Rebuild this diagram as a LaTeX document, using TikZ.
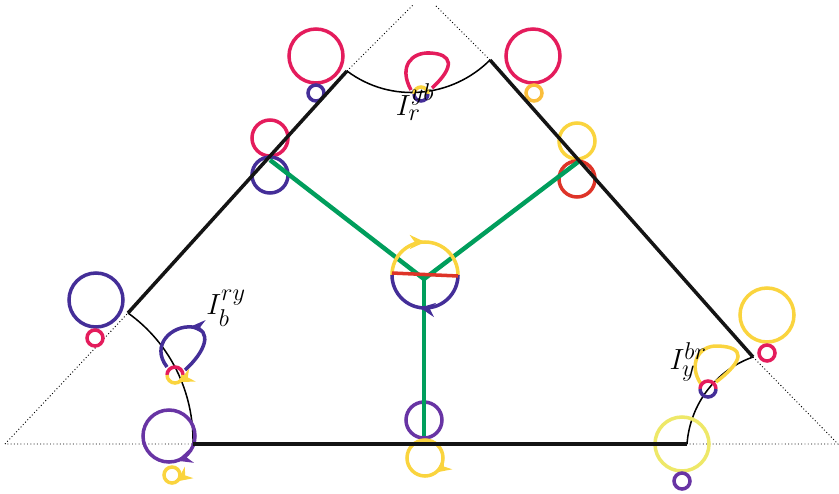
\documentclass[tikz,border=0pt]{standalone}
\usepackage{amsmath,amssymb}
\usepackage{xcolor}
\usepackage{tikz}
\usetikzlibrary{arrows.meta,decorations.markings,calc}

\definecolor{crimsonR}{RGB}{228,28,92}
\definecolor{indigoB}{RGB}{68,46,152}
\definecolor{violetB}{RGB}{104,52,164}
\definecolor{sunY}{RGB}{250,212,62}
\definecolor{amberY}{RGB}{250,190,60}
\definecolor{vermR}{RGB}{222,52,40}
\definecolor{paleY}{RGB}{238,232,104}
\definecolor{leafG}{RGB}{0,158,92}

\begin{document}
\begin{tikzpicture}[
  x=0.03cm, y=-0.03cm,
  guide/.style={dotted, line width=0.8pt},
  side/.style={line width=3pt, black!92},
  cut/.style={line width=1.3pt},
  leg/.style={line width=3.8pt, color=leafG},
  ring/.style={line width=3pt},
  spin/.style={line width=3pt, postaction={decorate},
    decoration={markings, mark=at position #1 with {\arrow{Stealth[length=13pt,width=12pt]}}}},
  tag/.style={font=\Huge, inner sep=0pt},
]
\useasboundingbox (0,0) rectangle (839,493);
\clip (0,0) rectangle (839,493);

% corners of the dotted triangle and of the cut piece
\coordinate (topL) at (413,5);
\coordinate (topR) at (435,5);
\coordinate (cornL) at (5,444);
\coordinate (cornR) at (838,444);
\coordinate (vTL) at (347,71);
\coordinate (vTR) at (490,60);
\coordinate (vL) at (128,313);
\coordinate (vR) at (753,357);
\coordinate (vBL) at (193,444);
\coordinate (vBR) at (687,444);

\draw[guide] (cornL) -- (vL);
\draw[guide] (vTL) -- (topL);
\draw[guide] (vTR) -- (topR);
\draw[guide] (vR) -- (cornR) -- (cornL);

% cuts round the three corners
\draw[cut] (vTL) .. controls (391,104) and (452,98) .. (vTR);
\draw[cut] (vL) .. controls (170,343) and (194,392) .. (vBL);
\draw[cut] (vR) .. controls (716,370) and (690,404) .. (vBR);

% rings on the edges
\draw[ring, crimsonR] (316,56) circle (27);
\draw[ring, indigoB] (316,93) circle (8);
\draw[ring, crimsonR] (533,56) circle (27);
\draw[ring, amberY] (534,93) circle (8);
\draw[ring, crimsonR] (270,138) circle (18);
\draw[ring, indigoB] (270,175) circle (18);
\draw[ring, sunY] (577,141) circle (18);
\draw[ring, vermR] (577,179) circle (18);
\draw[ring, indigoB] (96,300) circle (27);
\draw[ring, crimsonR] (95,338) circle (8);
\draw[ring, sunY] (767,315) circle (27);
\draw[ring, crimsonR] (767,353) circle (8);
\draw[ring, paleY] (682,444) circle (27);
\draw[ring, violetB] (682,481) circle (8);
\draw[spin=0.2, violetB] (169,436) circle (26);
\draw[spin=0.15, sunY] (172,475) circle (8);
\draw[ring, violetB] (424,420) circle (18);
\draw[spin=0.15, sunY] (425,458) circle (18);

% green tree
\coordinate (hub) at (424,279);
\coordinate (legL) at (270,160);
\coordinate (legR) at (578,162);
\coordinate (legB) at (424,436);
\draw[leg] (hub) -- (legL);
\draw[leg] (hub) -- (legR);
\draw[leg] (hub) -- (legB);

% sides
\draw[side] (vL) -- (vTL);
\draw[side] (vTR) -- (vR);
\draw[side] (vBL) -- (vBR);

% turning ring at the hub
\coordinate (barL) at (392,273);
\coordinate (barR) at (458,276);
\draw[spin=0.5, sunY] (392,275) arc[start angle=180, end angle=360, radius=33];
\draw[spin=0.55, indigoB] (458,275) arc[start angle=0, end angle=180, radius=33];
\draw[ring, vermR] (barL) -- (barR);

% loops at the corners
\draw[ring, crimsonR] (411,90) .. controls (398,66) and (412,52) .. (430,53)
  .. controls (452,54) and (456,66) .. (432,88);
\draw[ring, sunY] (414,94) arc[start angle=180, end angle=360, radius=7];
\draw[ring, indigoB] (428,94) arc[start angle=0, end angle=180, radius=7];

\draw[spin=0.5, indigoB] (185,370) .. controls (205,352) and (214,330) .. (192,327)
  .. controls (172,325) and (150,345) .. (167,367);
\draw[ring, crimsonR] (167,375) arc[start angle=180, end angle=360, radius=8];
\draw[spin=0.35, sunY] (183,375) arc[start angle=0, end angle=180, radius=8];

\draw[ring, sunY] (701,384) .. controls (688,365) and (698,345) .. (718,346)
  .. controls (745,347) and (745,360) .. (716,382);
\draw[ring, crimsonR] (700,389) arc[start angle=180, end angle=360, radius=8];
\draw[ring, indigoB] (716,389) arc[start angle=0, end angle=180, radius=8];

% labels
\node[tag] (labR) at (415,102) {$I_r^{yb}$};
\node[tag] (labB) at (226,308) {$I_b^{ry}$};
\node[tag] (labY) at (688,362) {$I_y^{br}$};

\end{tikzpicture}
\end{document}
